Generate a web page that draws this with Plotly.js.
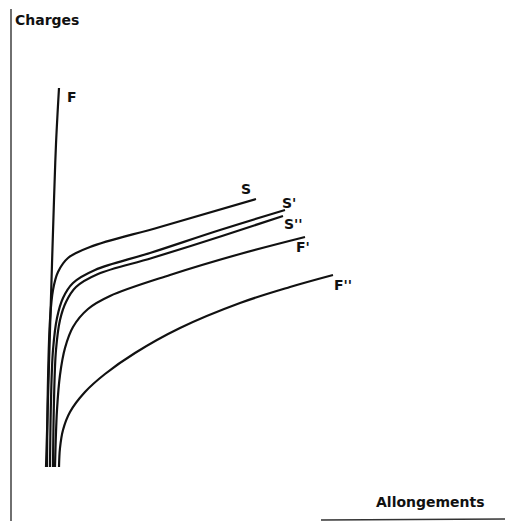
<!DOCTYPE html>
<html>
<head>
<meta charset="utf-8">
<script src="https://cdn.plot.ly/plotly-3.0.1.min.js"></script>
<style>html,body{margin:0;padding:0;background:#fff;}#chart{width:505px;height:523px;}</style>
</head>
<body>
<div id="chart"></div>
<script>
// Arbitrary units: Allongements (x) and Charges (y)
const seriesNames = ["F", "S", "S'", "S''", "F'", "F''"];

const F_x = [35, 37, 39, 41, 43, 45, 48];
const F_y = [52, 120, 189, 255, 319, 375, 431];

const S_x = [36, 37, 39, 42, 47, 57, 79, 149, 245];
const S_y = [52, 139, 199, 229, 247, 261, 272, 292, 320];

const S1_x = [39, 40, 42, 46, 52, 62, 84, 139, 209, 274];
const S1_y = [52, 119, 169, 201, 221, 236, 249, 266, 289, 309];

const S2_x = [42, 43, 45, 49, 55, 65, 87, 141, 211, 272];
const S2_y = [52, 119, 169, 199, 217, 232, 245, 261, 283, 303];

const F1_x = [44, 46, 49, 54, 62, 77, 99, 159, 229, 294];
const F1_y = [52, 109, 144, 171, 192, 210, 223, 244, 265, 282];

const F2_x = [48, 49, 52, 59, 74, 94, 124, 169, 229, 279, 322];
const F2_y = [52, 71, 89, 107, 127, 145, 166, 191, 216, 232, 244];

const xs = [F_x, S_x, S1_x, S2_x, F1_x, F2_x];
const ys = [F_y, S_y, S1_y, S2_y, F1_y, F2_y];

const traces = xs.map((x, i) => ({
  x: x, y: ys[i], name: seriesNames[i], mode: 'lines', type: 'scatter',
  line: {color: '#111', width: 2.2, shape: 'spline', smoothing: 1},
  hoverinfo: 'skip', showlegend: false
}));

const font = {family: 'DejaVu Sans, Verdana, sans-serif', color: '#111', weight: 'bold'};
const lab = (text, x, y, size) => ({text: text, x: x, y: y, xref: 'x', yref: 'y', showarrow: false,
  font: Object.assign({size: size}, font), xanchor: 'center', yanchor: 'middle'});

const layout = {
  width: 505, height: 523,
  margin: {l: 0, r: 0, t: 0, b: 0},
  paper_bgcolor: '#fff', plot_bgcolor: '#fff',
  xaxis: {range: [-11, 494], visible: false, fixedrange: true},
  yaxis: {range: [-4, 519], visible: false, fixedrange: true},
  shapes: [
    {type: 'line', xref: 'x', yref: 'y', x0: 0, y0: -2, x1: 0, y1: 510, line: {color: '#222', width: 1.3}},
    {type: 'line', xref: 'x', yref: 'y', x0: 310, y0: -1, x1: 494, y1: 0, line: {color: '#333', width: 1.3}}
  ],
  annotations: [
    {text: 'Charges', x: 2, y: 499, xref: 'x', yref: 'y', showarrow: false, xanchor: 'left', yanchor: 'middle', font: Object.assign({size: 14}, font)},
    {text: 'Allongements', x: 419, y: 17, xref: 'x', yref: 'y', showarrow: false, xanchor: 'center', yanchor: 'middle', font: Object.assign({size: 14}, font)},
    lab('F', 61, 422, 14),
    lab('S', 235, 330, 14),
    lab("S'", 278, 316, 14),
    lab("S''", 282, 295, 14),
    lab("F'", 292, 272, 14),
    lab("F''", 332, 234, 14)
  ]
};

Plotly.newPlot('chart', traces, layout, {staticPlot: true, displayModeBar: false});
</script>
</body>
</html>
